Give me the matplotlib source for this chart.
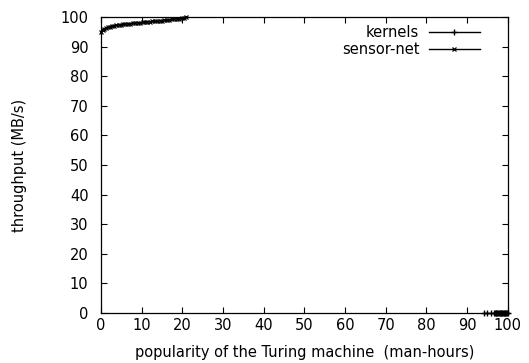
import matplotlib
matplotlib.use("Agg")
import matplotlib.pyplot as plt

# sensor-net: popularity vs throughput
sensor_x = [0.0, 0.4, 0.8, 1.2, 1.7, 2.2, 2.7, 3.2, 3.8, 4.3, 4.9, 5.5, 6.0, 6.6,
            7.2, 7.8, 8.4, 9.0, 9.6, 10.2, 10.8, 11.4, 12.0, 12.6, 13.2, 13.8,
            14.4, 15.0, 15.6, 16.2, 16.8, 17.4, 18.0, 18.6, 19.2, 19.8, 20.4, 21.0]
sensor_y = [94.8, 95.6, 96.0, 96.3, 96.6, 96.8, 96.9, 97.1, 97.2, 97.3, 97.4, 97.5,
            97.6, 97.7, 97.8, 97.9, 98.0, 98.0, 98.1, 98.2, 98.3, 98.3, 98.4, 98.5,
            98.6, 98.6, 98.7, 98.8, 98.9, 99.0, 99.1, 99.2, 99.3, 99.4, 99.5, 99.6,
            99.8, 100.0]

# kernels: clustered at the far right, throughput ~0
kernels_x = [94.2, 95.0, 95.8, 96.5, 96.8, 97.0, 97.2, 97.4, 97.6, 97.8, 98.0,
             98.2, 98.4, 98.6, 98.8, 99.0, 99.2, 99.4, 99.6, 99.8, 100.0]
kernels_y = [0.0] * len(kernels_x)

plt.rcParams['font.family'] = ['DejaVu Sans']
plt.rcParams['font.size'] = 10.5

fig = plt.figure(figsize=(5.29, 3.63), dpi=100)
ax = fig.add_axes([0.191, 0.138, 0.769, 0.815])

ax.plot(kernels_x, kernels_y, color='black', lw=1, marker='+', ms=5,
        mew=1, label='kernels', clip_on=False)
ax.plot(sensor_x, sensor_y, color='black', lw=1, marker='x', ms=3.5,
        mew=0.9, label='sensor-net', clip_on=False)

ax.set_xlim(0, 100)
ax.set_ylim(0, 100)
ax.set_xticks(range(0, 101, 10))
ax.set_yticks(range(0, 101, 10))
ax.tick_params(direction='in', top=True, right=True, length=4, width=0.8)
ax.tick_params(axis='x', pad=4)
ax.tick_params(axis='y', pad=9)
for s in ax.spines.values():
    s.set_linewidth(0.9)

ax.set_xlabel('popularity of the Turing machine  (man-hours)', labelpad=8)
ax.set_ylabel('throughput (MB/s)', labelpad=24)

ax.legend(loc='upper right', frameon=False, markerfirst=False, handlelength=3.5,
          handletextpad=0.65, borderaxespad=0, borderpad=0, labelspacing=0.1,
          bbox_to_anchor=(0.931, 0.972))

fig.savefig('out.png', dpi=100)
